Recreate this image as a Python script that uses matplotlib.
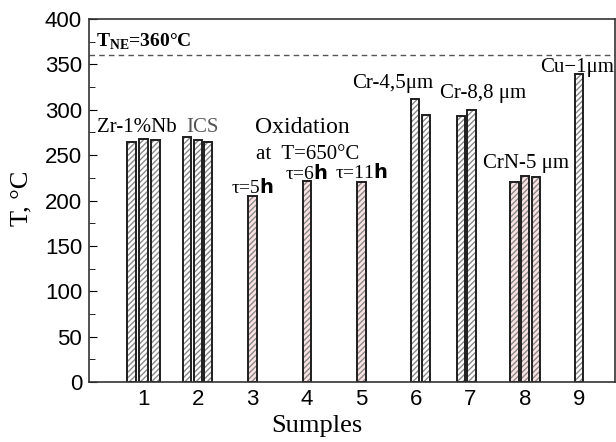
'''
Temperature of samples: bar groups with hatched bars.
'''
import numpy as np
import matplotlib.pyplot as plt

# Data
samples = [1, 1, 1, 2, 2, 2, 3, 4, 5, 6, 6, 7, 7, 8, 8, 8, 9]
temps = [265, 268, 267, 270, 267, 265, 205, 222, 220, 312, 294, 293, 300, 220, 227, 226, 339]
oxidized = [0, 0, 0, 0, 0, 0, 1, 1, 1, 0, 0, 0, 0, 1, 1, 1, 0]
t_ne = 360
x_ticks = [1, 2, 3, 4, 5, 6, 7, 8, 9]

# Layout: shift of each bar from its sample tick
offsets = [-0.22, 0.0, 0.22, -0.2, 0.0, 0.18, 0.0, 0.0, 0.0,
           -0.02, 0.19, -0.17, 0.02, -0.19, 0.0, 0.21, 0.0]

serif = 'Liberation Serif'
sans = 'Liberation Sans'

fig = plt.figure(figsize=(6.16, 4.42), dpi=100)
ax = fig.add_axes([0.1445, 0.1357, 0.8535, 0.8213])

xpos = np.array(samples) + np.array(offsets)
fills = ['#fbe3e3' if o else 'white' for o in oxidized]
width = 0.15

# hatch layer, then outline on top
ax.bar(xpos, temps, width=width, color=fills, edgecolor='#8a8a8a',
       hatch='//////', linewidth=0)
ax.bar(xpos, temps, width=width, fill=False, edgecolor='#1e1e1e', linewidth=1.4)

ax.axhline(t_ne, color='#555555', linestyle=(0, (4, 3)), linewidth=1.0)

ax.set_xlim(0, 9.65)
ax.set_ylim(0, 400)
ax.set_xticks(x_ticks)
ax.set_yticks(np.arange(0, 401, 50))
ax.set_yticks(np.arange(25, 400, 50), minor=True)
ax.tick_params(axis='x', length=0, pad=5, labelsize=16)
ax.tick_params(axis='y', which='both', direction='in', labelsize=16, pad=5)
ax.tick_params(axis='y', which='major', length=6)
ax.tick_params(axis='y', which='minor', length=4)
for lab in ax.get_xticklabels() + ax.get_yticklabels():
    lab.set_fontfamily(sans)
for sp in ax.spines.values():
    sp.set_linewidth(1.2)
    sp.set_color('#333333')

ax.set_xlabel('Sumples', fontfamily=serif, fontsize=19)
ax.set_ylabel('T, °C', fontfamily=serif, fontsize=19)
ax.xaxis.set_label_coords(0.433, -0.092)
ax.yaxis.set_label_coords(-0.108, 0.507)

# annotations
ax.text(0.13, 375, r'T$_{\mathregular{NE}}$=360°C', fontfamily=serif, fontsize=14,
        fontweight='bold', va='center', ha='left')
ax.text(0.88, 281, 'Zr-1%Nb', fontfamily=serif, fontsize=15, ha='center', va='center')
ax.text(2.09, 281, 'ICS', fontfamily=serif, fontsize=15, ha='center', va='center',
        color='#555555')
ax.text(3.05, 281, 'Oxidation', fontfamily=serif, fontsize=17, ha='left', va='center')
ax.text(3.07, 251, 'at  T=650°C', fontfamily=serif, fontsize=15, ha='left', va='center')
for xs, ys, lab in [(3, 214, '5'), (4, 230, '6'), (5, 231, '11')]:
    ax.text(xs, ys, r'τ=' + lab + r'$\mathbf{h}$', fontfamily=serif, fontsize=14,
            ha='center', va='center')
ax.text(5.58, 329, 'Cr-4,5μm', fontfamily=serif, fontsize=15, ha='center', va='center')
ax.text(7.23, 318, 'Cr-8,8 μm', fontfamily=serif, fontsize=15, ha='center', va='center')
ax.text(8.02, 241, 'CrN-5 μm', fontfamily=serif, fontsize=15, ha='center', va='center')
ax.text(8.95, 347, 'Cu−1μm', fontfamily=serif, fontsize=15, ha='center', va='center')

plt.savefig('out.png', dpi=100)
